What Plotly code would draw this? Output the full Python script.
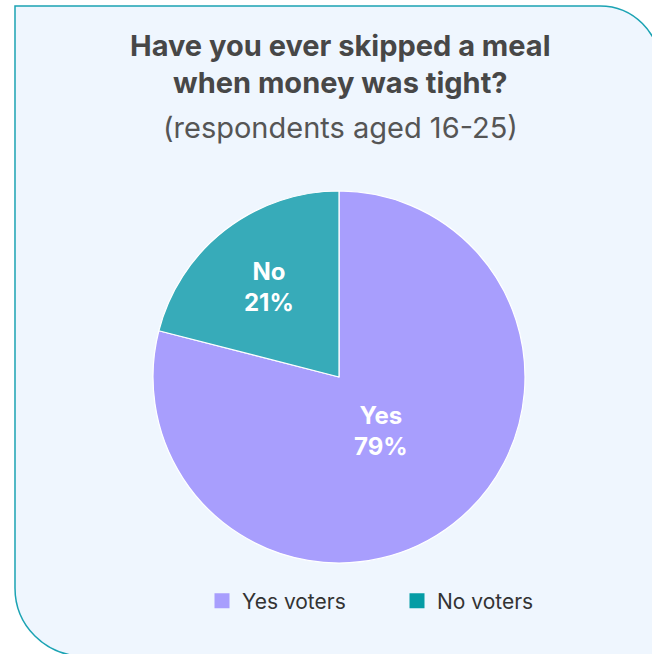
import math
import plotly.graph_objects as go

labels = ["Yes", "No"]
values = [79, 21]
slice_colors = ["#A89EFD", "#37ABB9"]
legend_names = ["Yes voters", "No voters"]
legend_colors = ["#A89EFD", "#059CA5"]
label_radius = [0.37, 0.61]  # fraction of pie radius where each label sits

W, H = 652, 654

def px(x):
    return x / W

def py(y):
    return 1 - y / H

# pie geometry in pixels
cx, cy, r = 339, 377, 186

fig = go.Figure()
fig.add_trace(go.Pie(
    labels=labels, values=values, sort=False, direction="clockwise", rotation=0,
    marker=dict(colors=slice_colors, line=dict(color="white", width=1.2)),
    textinfo="none",
    domain=dict(x=[px(cx - r), px(cx + r)], y=[py(cy + r), py(cy - r)]),
    showlegend=False, hoverinfo="label+percent",
))
for name, col in zip(legend_names, legend_colors):
    fig.add_trace(go.Scatter(x=[None], y=[None], mode="markers", name=name,
                             marker=dict(symbol="square", size=15, color=col)))

# slice labels at mid-angle of each slice
total = sum(values)
start = 0.0
for lab, v, fr in zip(labels, values, label_radius):
    mid = (start + v / 2) / total * 2 * math.pi
    start += v
    lx = cx + fr * r * math.sin(mid)
    ly = cy - fr * r * math.cos(mid)
    fig.add_annotation(text=f"<b>{lab}<br>{v}%</b>", x=px(lx), y=py(ly),
                       xref="paper", yref="paper", showarrow=False,
                       font=dict(family="Inter", size=24, color="white"),
                       xanchor="center", yanchor="middle")

# card shape
R1, R2 = 60, 68
L, T, Rt, B = 15, 6, 660, 656
k = 0.5523
path = (
    f"M {px(L)},{py(T)} L {px(Rt - R1)},{py(T)} "
    f"C {px(Rt - R1 + k*R1)},{py(T)} {px(Rt)},{py(T + R1 - k*R1)} {px(Rt)},{py(T + R1)} "
    f"L {px(Rt)},{py(B)} L {px(L + R2)},{py(B)} "
    f"C {px(L + R2 - k*R2)},{py(B)} {px(L)},{py(B - R2 + k*R2)} {px(L)},{py(B - R2)} Z"
)
fig.add_shape(type="path", path=path, xref="paper", yref="paper",
              fillcolor="#EFF6FE", line=dict(color="#1BA3B3", width=1.5), layer="below")

title_font = dict(family="Inter", size=29, color="#474747")
fig.add_annotation(text="<b>Have you ever skipped a meal</b>", x=px(340), y=py(45),
                   xref="paper", yref="paper", showarrow=False, font=title_font,
                   xanchor="center", yanchor="middle")
fig.add_annotation(text="<b>when money was tight?</b>", x=px(340), y=py(83),
                   xref="paper", yref="paper", showarrow=False, font=title_font,
                   xanchor="center", yanchor="middle")
fig.add_annotation(text="(respondents aged 16-25)", x=px(340), y=py(127),
                   xref="paper", yref="paper", showarrow=False,
                   font=dict(family="Inter", size=29, color="#555555"),
                   xanchor="center", yanchor="middle")

fig.update_layout(
    width=W, height=H, margin=dict(l=0, r=0, t=0, b=0, autoexpand=False),
    paper_bgcolor="white", plot_bgcolor="rgba(0,0,0,0)",
    xaxis=dict(visible=False), yaxis=dict(visible=False),
    legend=dict(orientation="h", x=px(202), y=py(601), xanchor="left", yanchor="middle",
                font=dict(family="Inter", size=21, color="#333333"),
                bgcolor="rgba(0,0,0,0)", entrywidth=150, entrywidthmode="pixels",
                itemclick=False),
)
fig.write_html("out.html")
